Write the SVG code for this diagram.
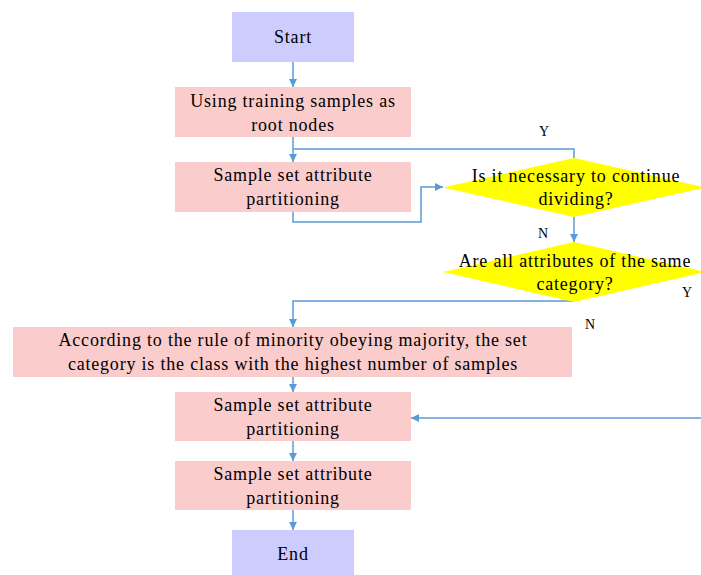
<svg xmlns="http://www.w3.org/2000/svg" width="701" height="575" viewBox="0 0 701 575">
<style>
.pink{fill:#FBCCCC}
.lav{fill:#CCCCFF}
.dia{fill:#FFFF00}
.t{font-family:'Liberation Serif',serif;font-size:18px;letter-spacing:0.8px;fill:#000;text-anchor:middle}
.l{font-family:'Liberation Serif',serif;font-size:14px;fill:#000;text-anchor:middle}
.c{fill:none;stroke:#5B9BD5;stroke-width:1.5}
</style>
<defs>
<marker id="a" viewBox="0 0 10 10" refX="10" refY="5" markerWidth="8" markerHeight="8" markerUnits="userSpaceOnUse" orient="auto">
<path d="M0,0 L10,5 L0,10 z" fill="#5B9BD5"/>
</marker>
</defs>
<rect width="701" height="575" fill="#fff"/>
<g id="connectors">
<path class="c" d="M293,62 V87" marker-end="url(#a)"/>
<path class="c" d="M293,137 V162" marker-end="url(#a)"/>
<path class="c" d="M574,158 V149 H293"/>
<path class="c" d="M293,212 V222 H421 V187 H443" marker-end="url(#a)"/>
<path class="c" d="M574,217 V242" marker-end="url(#a)"/>
<path class="c" d="M574,301 H293 V327" marker-end="url(#a)"/>
<path class="c" d="M293,377 V392" marker-end="url(#a)"/>
<path class="c" d="M701,418 H411" marker-end="url(#a)"/>
<path class="c" d="M293,441 V461" marker-end="url(#a)"/>
<path class="c" d="M293,510 V530" marker-end="url(#a)"/>
<text class="l" x="544" y="136">Y</text>
<text class="l" x="543" y="238">N</text>
<text class="l" x="687" y="297">Y</text>
<text class="l" x="590" y="329">N</text>
</g>
<g id="start">
<rect class="lav" x="232" y="12" width="122" height="50"/>
<text class="t" x="293" y="43">Start</text>
</g>
<g id="root">
<rect class="pink" x="175" y="87" width="236" height="50"/>
<text class="t" x="293" y="107">Using training samples as</text>
<text class="t" x="293" y="131">root nodes</text>
</g>
<g id="partition1">
<rect class="pink" x="175" y="162" width="236" height="50"/>
<text class="t" x="293" y="181">Sample set attribute</text>
<text class="t" x="293" y="205">partitioning</text>
</g>
<g id="decision1">
<polygon class="dia" points="443,187.5 574,158 705,187.5 574,217"/>
<text class="t" x="576" y="182">Is it necessary to continue</text>
<text class="t" x="576" y="205">dividing?</text>
</g>
<g id="decision2">
<polygon class="dia" points="443,272 574,242 705,272 574,302"/>
<text class="t" x="575" y="267">Are all attributes of the same</text>
<text class="t" x="575" y="290">category?</text>
</g>
<g id="majority">
<rect class="pink" x="13" y="327" width="559" height="50"/>
<text class="t" x="293" y="346">According to the rule of minority obeying majority, the set</text>
<text class="t" x="293" y="370">category is the class with the highest number of samples</text>
</g>
<g id="partition2">
<rect class="pink" x="175" y="392" width="236" height="49"/>
<text class="t" x="293" y="411">Sample set attribute</text>
<text class="t" x="293" y="435">partitioning</text>
</g>
<g id="partition3">
<rect class="pink" x="175" y="461" width="236" height="49"/>
<text class="t" x="293" y="480">Sample set attribute</text>
<text class="t" x="293" y="504">partitioning</text>
</g>
<g id="end">
<rect class="lav" x="232" y="530" width="122" height="45"/>
<text class="t" x="293" y="560">End</text>
</g>
</svg>
